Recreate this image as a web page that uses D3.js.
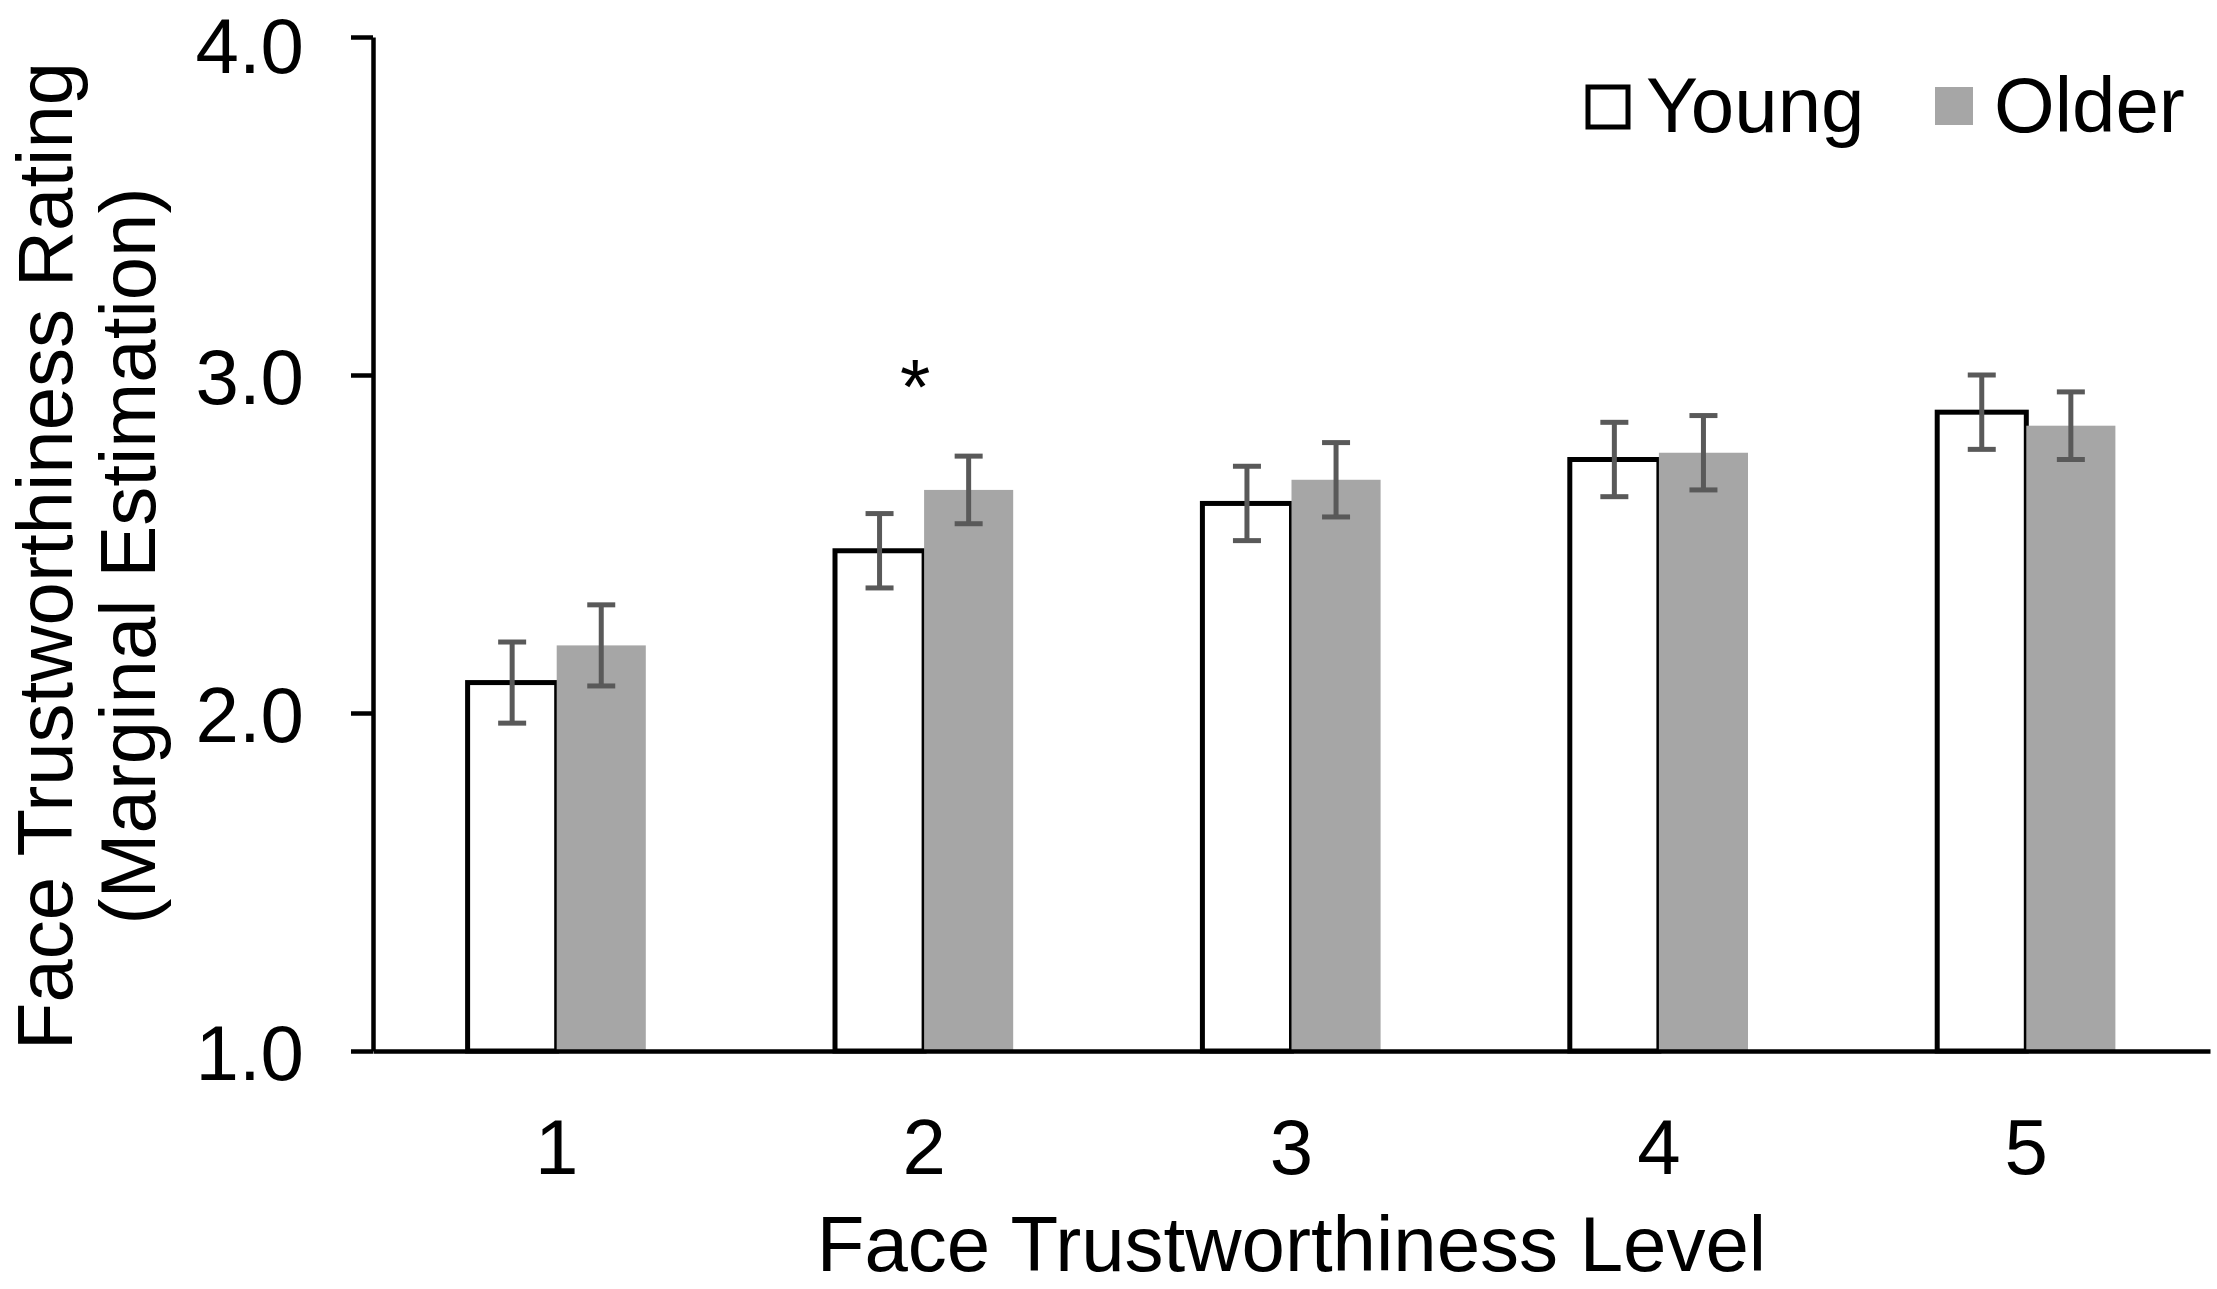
<!DOCTYPE html>
<html>
<head>
<meta charset="utf-8">
<script src="https://cdn.jsdelivr.net/npm/d3@7/dist/d3.min.js"></script>
<style>
  html, body { margin: 0; padding: 0; background: #ffffff; overflow: hidden; }
  svg { display: block; }
  text { font-family: "Liberation Sans", Arial, sans-serif; fill: #000; }
</style>
</head>
<body>
<svg id="chart" width="2217" height="1289"></svg>
<script>
// ---- data ----
const levels = ["1", "2", "3", "4", "5"];
const seriesNames = ["Young", "Older"];
const youngMeans = [2.09, 2.48, 2.62, 2.75, 2.89];
const olderMeans = [2.20, 2.66, 2.69, 2.77, 2.85];
const youngErr = [0.12, 0.11, 0.11, 0.11, 0.11];
const olderErr = [0.12, 0.10, 0.11, 0.11, 0.10];
const yTicks = [1.0, 2.0, 3.0, 4.0];
const significant = ["2"];
const xTitle = "Face Trustworthiness Level";
const yTitle1 = "Face Trustworthiness Rating";
const yTitle2 = "(Marginal Estimation)";

// ---- layout ----
const W = 2217, H = 1289;
const plot = { left: 373, right: 2210, top: 37, bottom: 1051 };
const FS = 78;
const colors = { Young: "#ffffff", Older: "#a6a6a6" };
const errColor = "#595959";

const svg = d3.select("#chart");
svg.append("rect").attr("width", W).attr("height", H).attr("fill", "#fff");

const x0 = d3.scaleBand().domain(levels).range([plot.left, plot.right])
  .paddingInner(0.515).paddingOuter(0.2575);
const x1 = d3.scaleBand().domain(seriesNames).range([0, x0.bandwidth()]).padding(0);
const y = d3.scaleLinear().domain([1, 4]).range([plot.bottom, plot.top]);

const rows = levels.map((lv, i) => ({
  level: lv,
  values: [
    { series: "Young", mean: youngMeans[i], err: youngErr[i] },
    { series: "Older", mean: olderMeans[i], err: olderErr[i] }
  ]
}));

// bars
const groups = svg.append("g").selectAll("g").data(rows).join("g")
  .attr("transform", d => `translate(${x0(d.level)},0)`);

groups.selectAll("rect.bar").data(d => d.values).join("rect")
  .attr("class", "bar")
  .attr("x", d => x1(d.series))
  .attr("y", d => y(d.mean))
  .attr("width", x1.bandwidth())
  .attr("height", d => y(1) - y(d.mean))
  .attr("fill", d => colors[d.series])
  .attr("stroke", d => d.series === "Young" ? "#000" : "none")
  .attr("stroke-width", 5);

// error bars
const capW = 28;
const eb = groups.selectAll("g.err").data(d => d.values).join("g").attr("class", "err")
  .attr("stroke", errColor).attr("stroke-width", 5);
eb.append("line")
  .attr("x1", d => x1(d.series) + x1.bandwidth() / 2)
  .attr("x2", d => x1(d.series) + x1.bandwidth() / 2)
  .attr("y1", d => y(d.mean + d.err))
  .attr("y2", d => y(d.mean - d.err));
eb.append("line")
  .attr("x1", d => x1(d.series) + x1.bandwidth() / 2 - capW / 2)
  .attr("x2", d => x1(d.series) + x1.bandwidth() / 2 + capW / 2)
  .attr("y1", d => y(d.mean + d.err))
  .attr("y2", d => y(d.mean + d.err));
eb.append("line")
  .attr("x1", d => x1(d.series) + x1.bandwidth() / 2 - capW / 2)
  .attr("x2", d => x1(d.series) + x1.bandwidth() / 2 + capW / 2)
  .attr("y1", d => y(d.mean - d.err))
  .attr("y2", d => y(d.mean - d.err));

// significance asterisk
svg.append("g").selectAll("text").data(significant).join("text")
  .attr("x", d => x0(d) + x0.bandwidth() / 2 - 9)
  .attr("y", d => {
    const i = levels.indexOf(d);
    return y(Math.max(youngMeans[i] + youngErr[i], olderMeans[i] + olderErr[i]));
  })
  .attr("dy", -42)
  .attr("text-anchor", "middle")
  .attr("font-size", FS)
  .text("*");

// y axis
const yAxis = svg.append("g").attr("transform", `translate(${plot.left},0)`)
  .call(d3.axisLeft(y).tickValues(yTicks).tickFormat(d3.format(".1f"))
    .tickSize(22).tickSizeOuter(0).tickPadding(47));
yAxis.selectAll("path, line").attr("stroke", "#000").attr("stroke-width", 4.5);
yAxis.selectAll("text").attr("font-size", FS).attr("font-family", "Liberation Sans, Arial, sans-serif")
  .attr("fill", "#000").attr("dy", d => d === 4 ? "0.45em" : "0.36em");

// x axis
const xAxis = svg.append("g").attr("transform", `translate(0,${plot.bottom})`)
  .call(d3.axisBottom(x0).tickSize(0).tickSizeOuter(0).tickPadding(68));
xAxis.selectAll("path").attr("stroke", "#000").attr("stroke-width", 4.5);
xAxis.selectAll("text").attr("font-size", FS).attr("font-family", "Liberation Sans, Arial, sans-serif")
  .attr("fill", "#000").attr("dy", "0.71em");

// axis titles
svg.append("text")
  .attr("x", (plot.left + plot.right) / 2)
  .attr("y", 1271)
  .attr("text-anchor", "middle")
  .attr("font-size", FS)
  .text(xTitle);

const yMid = 556;
svg.append("text")
  .attr("transform", `translate(72,${yMid}) rotate(-90)`)
  .attr("text-anchor", "middle")
  .attr("font-size", FS)
  .text(yTitle1);
svg.append("text")
  .attr("transform", `translate(155,${yMid}) rotate(-90)`)
  .attr("text-anchor", "middle")
  .attr("font-size", FS)
  .text(yTitle2);

// legend
const legendItems = [
  { name: "Young", sx: 1588, sy: 87, size: 40, textX: 1646 },
  { name: "Older", sx: 1935, sy: 87, size: 38, textX: 1994 }
];
const lg = svg.append("g").selectAll("g").data(legendItems).join("g");
lg.append("rect")
  .attr("x", d => d.sx).attr("y", d => d.sy)
  .attr("width", d => d.size).attr("height", d => d.size)
  .attr("fill", d => colors[d.name])
  .attr("stroke", d => d.name === "Young" ? "#000" : "none")
  .attr("stroke-width", 5);
lg.append("text")
  .attr("x", d => d.textX).attr("y", 132)
  .attr("font-size", FS)
  .text(d => d.name);
</script>
</body>
</html>
